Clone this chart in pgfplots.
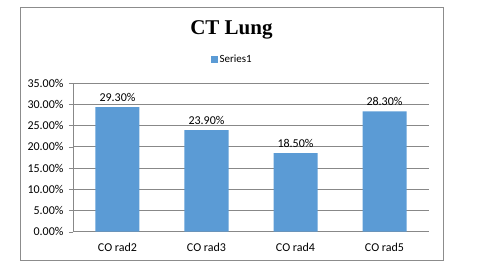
\documentclass[border=0pt]{standalone}
\usepackage{fontspec}
\setmainfont{Carlito}
\newfontfamily\titlefont{Liberation Serif}
\usepackage{pgfplots}
\pgfplotsset{compat=1.18}
\definecolor{barblue}{HTML}{5B9BD5}
\definecolor{gridgray}{HTML}{888888}
\definecolor{framegray}{HTML}{8C8C8C}
\begin{document}
\begin{tikzpicture}
\begin{axis}[
  at={(0pt,0pt)}, anchor=south west,
  scale only axis, width=356pt, height=148.7pt,
  xmin=-0.5, xmax=3.5, ymin=0, ymax=35,
  ytick={0,5,...,35},
  yticklabel={\pgfmathprintnumber[fixed,fixed zerofill,precision=2]{\tick}\%},
  /pgf/number format/assume math mode=true,
  xtick={0,1,2,3},
  xticklabels={CO rad2,CO rad3,CO rad4,CO rad5},
  minor xtick={-0.5,0.5,1.5,2.5,3.5},
  xtick style={draw=none},
  minor tick length=4pt,
  major tick length=4pt,
  tick align=outside,
  ytick style={gridgray},
  minor x tick style={gridgray},
  x tick label style={yshift=-4pt},
  y tick label style={xshift=-2pt},
  ymajorgrids, grid style={gridgray, line width=0.6pt},
  axis x line*=bottom, axis y line*=left,
  axis line style={gridgray, line width=0.6pt, -},
  tick label style={font=\fontsize{12}{14}\selectfont, text=black},
  ybar, bar width=44pt,
  nodes near coords={\pgfmathprintnumber[fixed,fixed zerofill,precision=2]{\pgfplotspointmeta}\%},
  nodes near coords style={font=\fontsize{12}{14}\selectfont, text=black, yshift=2pt},
  title={\titlefont\bfseries\fontsize{21}{24}\selectfont CT Lung},
  title style={at={(0.445,1.316)}, anchor=center},
  legend style={at={(0.447,1.155)}, anchor=center, draw=none, fill=none,
    font=\fontsize{11}{13}\selectfont, legend cell align=left,
    /tikz/every even column/.append style={column sep=2pt}},
  legend image code/.code={\fill[barblue] (0,-3.5pt) rectangle (7pt,3.5pt);},
]
\addplot[fill=barblue, draw=none] coordinates {(0,29.3) (1,23.9) (2,18.5) (3,28.3)};
\addlegendentry{Series1}
\end{axis}
\draw[framegray, line width=0.9pt] (-53pt,-28.3pt) rectangle (370pt,224.7pt);
\path[use as bounding box] (-73pt,-36.3pt) rectangle (417pt,231.7pt);
\end{tikzpicture}
\end{document}
